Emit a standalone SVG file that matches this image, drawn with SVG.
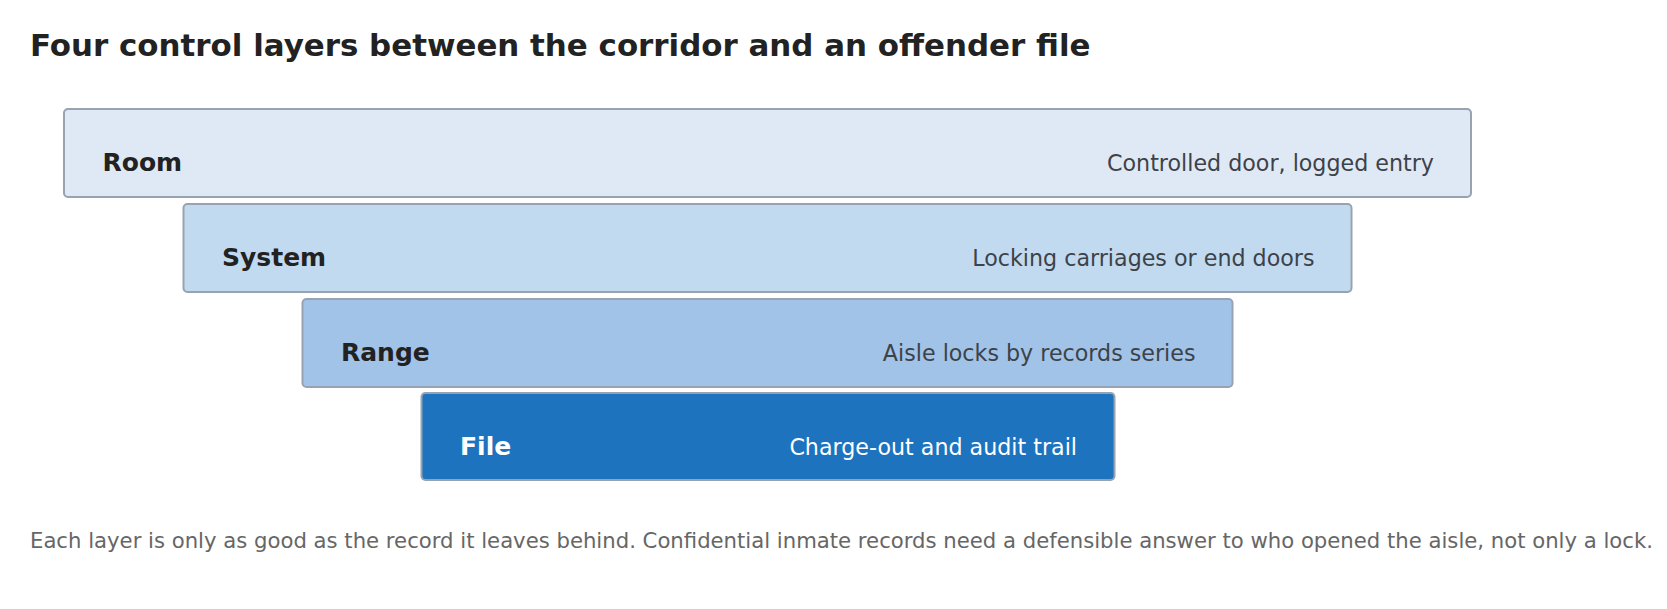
<svg xmlns="http://www.w3.org/2000/svg" width="1667" height="609" viewBox="0 0 1667 609">
<style>
.box{stroke:#97a3b1;stroke-width:2}
.lbl{font-family:"DejaVu Sans",sans-serif;font-weight:bold;font-size:25px;fill:#222222}
.desc{font-family:"DejaVu Sans",sans-serif;font-size:22.2px;fill:#3d4248;text-anchor:end}
.title{font-family:"DejaVu Sans",sans-serif;font-weight:bold;font-size:30.9px;fill:#222222}
.foot{font-family:"DejaVu Sans",sans-serif;font-size:21.2px;fill:#666666}
</style>
<rect width="1667" height="609" fill="#ffffff"/>
<text class="title" x="30" y="56">Four control layers between the corridor and an offender file</text>
<g id="connectors"></g>
<g id="room">
<rect class="box" x="64" y="109" width="1407" height="88" rx="4" fill="#dfe9f5"/>
<text class="lbl" x="102.5" y="171">Room</text>
<text class="desc" x="1434" y="171">Controlled door, logged entry</text>
</g>
<g id="system">
<rect class="box" x="183.5" y="204" width="1168" height="88" rx="4" fill="#c2daf0"/>
<text class="lbl" x="222" y="266">System</text>
<text class="desc" x="1314.5" y="266">Locking carriages or end doors</text>
</g>
<g id="range">
<rect class="box" x="302.5" y="299" width="930" height="88" rx="4" fill="#a1c3e8"/>
<text class="lbl" x="341" y="361">Range</text>
<text class="desc" x="1195.5" y="361">Aisle locks by records series</text>
</g>
<g id="file">
<rect class="box" x="421.5" y="393" width="693" height="87" rx="4" fill="#1d73be"/>
<text class="lbl" x="460" y="455" style="fill:#ffffff">File</text>
<text class="desc" x="1077" y="455" style="fill:#ffffff">Charge-out and audit trail</text>
</g>
<text class="foot" x="30" y="548">Each layer is only as good as the record it leaves behind. Confidential inmate records need a defensible answer to who opened the aisle, not only a lock.</text>
</svg>
